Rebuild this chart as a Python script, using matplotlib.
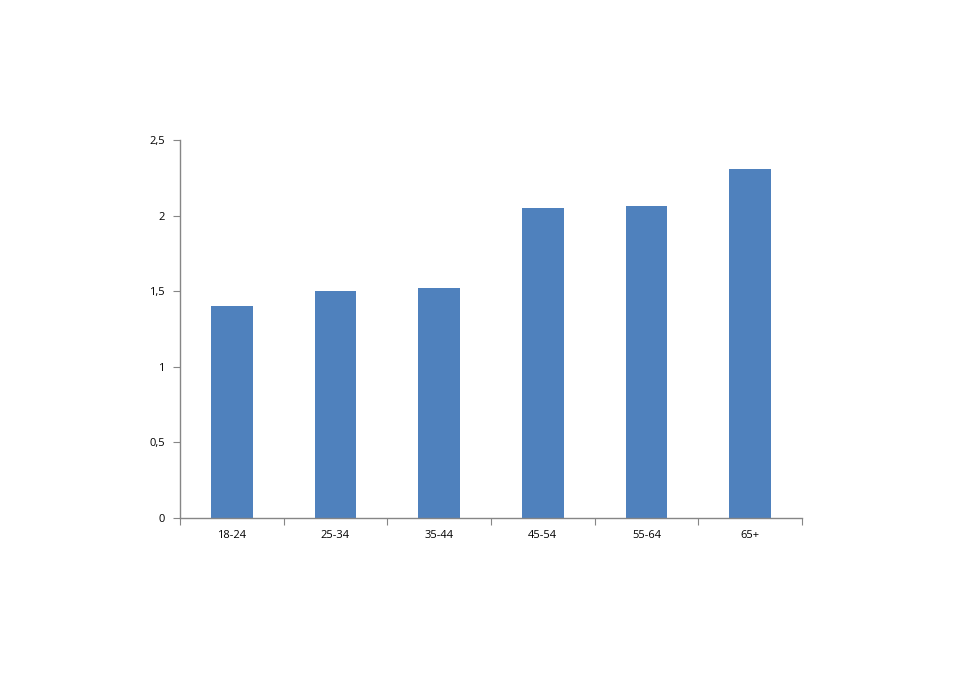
from matplotlib import pyplot as plt
import numpy as np

# Données
categories = ["18-24", "25-34", "35-44", "45-54", "55-64", "65+"]
valeurs = [1.40, 1.50, 1.52, 2.05, 2.06, 2.31]
yticks = [0, 0.5, 1, 1.5, 2, 2.5]
ytick_labels = ["0", "0,5", "1", "1,5", "2", "2,5"]

plt.rcParams['font.family'] = ['Open Sans', 'DejaVu Sans']

fig = plt.figure(figsize=(9.6, 6.75), dpi=100)
ax = fig.add_axes([0.1875, 0.2333, 0.6479, 0.5593])

x = np.arange(len(categories))
ax.bar(x, valeurs, width=0.4, color="#4F81BD")

ax.set_xlim(-0.5, len(categories) - 0.5)
ax.set_ylim(0, 2.5)
ax.set_yticks(yticks)
ax.set_yticklabels(ytick_labels)

# ticks de catégories aux limites (style Excel)
ax.set_xticks(np.arange(len(categories) + 1) - 0.5)
ax.set_xticklabels([])
ax.set_xticks(x, minor=True)
ax.set_xticklabels(categories, minor=True)
ax.tick_params(axis="x", which="minor", length=0, pad=9)
ax.tick_params(axis="x", which="major", length=5, direction="out", color="#868686")
ax.tick_params(axis="y", length=5, direction="out", color="#868686", pad=6)
ax.tick_params(which="both", labelsize=8, labelcolor="black")

for s in ["top", "right"]:
    ax.spines[s].set_visible(False)
for s in ["left", "bottom"]:
    ax.spines[s].set_color("#868686")
    ax.spines[s].set_linewidth(1)

fig.savefig("out.png", dpi=100)
